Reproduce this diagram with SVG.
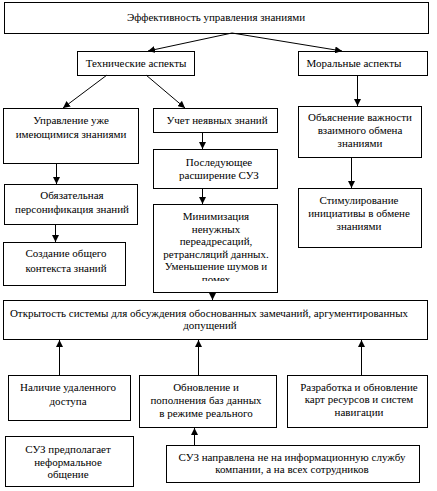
<svg xmlns="http://www.w3.org/2000/svg" width="437" height="491" viewBox="0 0 437 491" font-family="Liberation Serif, DejaVu Serif, serif">
<style>
rect.b{fill:#fff;stroke:#000;stroke-width:1}
text{font-family:'Liberation Serif','DejaVu Serif',serif;font-size:11px;fill:#000;text-anchor:middle}
.c line{stroke:#000;stroke-width:1;marker-end:url(#ah)}
</style>
<defs>
<marker id="ah" markerUnits="userSpaceOnUse" markerWidth="7" markerHeight="7" refX="7" refY="3.5" orient="auto">
<path d="M0,0 L7,3.5 L0,7 Z" fill="#000"/>
</marker>
<clipPath id="clipMin"><rect x="150" y="200" width="130" height="81"/></clipPath>
<clipPath id="clipObn"><rect x="135" y="370" width="145" height="56"/></clipPath>
</defs>
<rect width="437" height="491" fill="#fff"/>
<g id="n-top"><rect class="b" x="4.5" y="2.5" width="424" height="31"/><text x="216" y="21">Эффективность управления знаниями</text></g>
<g id="n-tech"><rect class="b" x="77.5" y="51.5" width="117" height="24"/><text x="136" y="67">Технические аспекты</text></g>
<g id="n-moral"><rect class="b" x="298.5" y="51.5" width="129" height="24"/><text x="354" y="67">Моральные аспекты</text></g>
<g id="n-upr"><rect class="b" x="3.5" y="108.5" width="135" height="55"/><text x="71" y="124">Управление уже</text><text x="71" y="138">имеющимися знаниями</text></g>
<g id="n-obyaz"><rect class="b" x="4.5" y="184.5" width="133" height="40"/><text x="72" y="199">Обязательная</text><text x="72" y="213">персонификация знаний</text></g>
<g id="n-sozd"><rect class="b" x="3.5" y="242.5" width="122" height="43"/><text x="66" y="257">Создание общего</text><text x="66" y="272">контекста знаний</text></g>
<g id="n-uchet"><rect class="b" x="153.5" y="108.5" width="124" height="24"/><text x="217" y="124">Учет неявных знаний</text></g>
<g id="n-posl"><rect class="b" x="153.5" y="149.5" width="124" height="39"/><text x="219" y="166">Последующее</text><text x="219" y="179">расширение СУЗ</text></g>
<g id="n-min"><rect class="b" x="153.5" y="204.5" width="124" height="88"/>
<g clip-path="url(#clipMin)"><text x="216" y="220">Минимизация</text><text x="216" y="232.5">ненужных</text><text x="216" y="245">переадресаций,</text><text x="216" y="257.5">ретрансляций данных.</text><text x="216" y="270">Уменьшение шумов и</text><text x="216" y="282.5">помех</text></g></g>
<g id="n-obyasn"><rect class="b" x="298.5" y="106.5" width="123" height="51"/><text x="360" y="121">Объяснение важности</text><text x="360" y="134">взаимного обмена</text><text x="360" y="147">знаниями</text></g>
<g id="n-stim"><rect class="b" x="298.5" y="188.5" width="123" height="59"/><text x="359" y="204">Стимулирование</text><text x="359" y="217">инициативы в обмене</text><text x="359" y="230">знаниями</text></g>
<g id="n-otkr"><rect class="b" x="3.5" y="300.5" width="424" height="39"/><text x="209" y="317">Открытость системы для обсуждения обоснованных замечаний, аргументированных</text><text x="210" y="329">допущений</text></g>
<g id="n-nal"><rect class="b" x="8.5" y="375.5" width="122" height="45"/><text x="68" y="391">Наличие удаленного</text><text x="68" y="405">доступа</text></g>
<g id="n-obn"><rect class="b" x="139.5" y="375.5" width="137" height="52"/>
<g clip-path="url(#clipObn)"><text x="206" y="391">Обновление и</text><text x="206" y="404">пополнения баз данных</text><text x="206" y="417">в режиме реального</text><text x="206" y="430.5">времени</text></g></g>
<g id="n-razr"><rect class="b" x="287.5" y="375.5" width="140" height="52"/><text x="359" y="391">Разработка и обновление</text><text x="359" y="403">карт ресурсов и систем</text><text x="359" y="416">навигации</text></g>
<g id="n-suzpr"><rect class="b" x="5.5" y="436.5" width="128" height="50"/><text x="68" y="453">СУЗ предполагает</text><text x="68" y="466">неформальное</text><text x="68" y="478">общение</text></g>
<g id="n-suznapr"><rect class="b" x="166.5" y="445.5" width="253" height="37"/><text x="292" y="461">СУЗ направлена не на информационную службу</text><text x="292" y="473">компании, а на всех сотрудников</text></g>
<g class="c" id="connectors">
<line x1="232" y1="33" x2="148" y2="51"/>
<line x1="232" y1="33" x2="342" y2="51"/>
<line x1="107" y1="75" x2="63" y2="108"/>
<line x1="146" y1="75" x2="185" y2="108"/>
<line x1="357.5" y1="75" x2="357.5" y2="106"/>
<line x1="56.5" y1="163" x2="56.5" y2="184"/>
<line x1="55.5" y1="224" x2="55.5" y2="242"/>
<line x1="202.5" y1="132" x2="202.5" y2="149"/>
<line x1="202.5" y1="188" x2="202.5" y2="204"/>
<line x1="212.5" y1="292" x2="212.5" y2="300"/>
<line x1="351.5" y1="157" x2="351.5" y2="188"/>
<line x1="59.5" y1="375" x2="59.5" y2="340"/>
<line x1="198.5" y1="375" x2="198.5" y2="340"/>
<line x1="361.5" y1="375" x2="361.5" y2="340"/>
<line x1="194.5" y1="445" x2="194.5" y2="428"/>
</g>
</svg>
